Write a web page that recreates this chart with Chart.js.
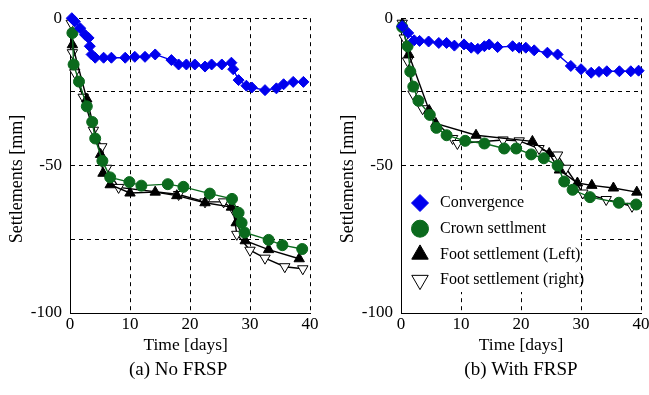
<!DOCTYPE html>
<html>
<head>
<meta charset="utf-8">
<script src="https://cdn.jsdelivr.net/npm/chart.js@4/dist/chart.umd.min.js"></script>
<style>
html,body{margin:0;padding:0;background:#fff;}
#wrap{position:relative;width:649px;height:395px;overflow:hidden;background:#fff;}
.pane{position:absolute;top:0;height:395px;}
canvas{display:block;}
</style>
</head>
<body>
<div id="wrap">
  <div class="pane" style="left:0;width:331px"><canvas id="c1" width="331" height="395"></canvas></div>
  <div class="pane" style="left:331px;width:320px"><canvas id="c2" width="320" height="395"></canvas></div>
</div>
<script>
// ---------- data ----------
const seriesNames = ['Convergence', 'Crown settlment', 'Foot settlement (Left)', 'Foot settlement (right)'];
const panelCaptions = ['(a) No FRSP', '(b) With FRSP'];
const xTicks = [0, 10, 20, 30, 40];
const yTicks = [0, -50, -100];

// (a) No FRSP
const convA_t = [0.3, 0.8, 1.7, 2.5, 3.1, 3.3, 3.6, 4.2, 5.6, 6.9, 9.2, 10.8, 12.5, 14.2, 16.9, 18.1, 19.4, 20.8, 22.5, 23.6, 25.3, 26.9, 27.2, 28.1, 29.4, 30.3, 32.5, 34.4, 35.6, 37.2, 38.9];
const convA_v = [0, -1.1, -3.4, -5.6, -6.7, -9.5, -12.3, -13.4, -13.4, -13.4, -13.4, -13.1, -13.1, -12.3, -14.2, -15.7, -15.7, -15.7, -16.4, -15.7, -15.7, -15.1, -17.3, -21, -22.9, -23.5, -24.4, -23.8, -22.4, -21.6, -21.6];
const crownA_t = [0.4, 0.6, 1.5, 2.8, 3.7, 4.2, 5.4, 6.7, 9.9, 11.9, 16.3, 18.9, 23.3, 27.0, 28.1, 28.6, 29.1, 33.1, 35.4, 38.7];
const crownA_v = [-5, -15.7, -21.5, -29.9, -35.2, -40.8, -48.4, -54, -55.6, -56.8, -56.3, -57.2, -59.5, -61.3, -66, -69.4, -72.7, -75.2, -77, -78.3];
const footLA_t = [0.4, 2.8, 5.1, 5.5, 6.7, 10, 14.2, 17.8, 22.5, 26.9, 27.7, 29.2, 33.1, 38.2];
const footLA_v = [-9, -27.4, -46.2, -52.6, -56.5, -59.3, -59, -60.2, -62.6, -64.1, -69.4, -75.5, -78.5, -81.6];
const footRA_t = [0.2, 0.4, 0.8, 2.2, 3.9, 5.3, 6.1, 8.1, 18.1, 22.5, 25.6, 27.2, 27.8, 30, 32.5, 35.8, 38.8];
const footRA_v = [-1.7, -11.7, -18.5, -26.8, -38, -43.6, -50.9, -57.4, -59.8, -62.3, -62.3, -64.9, -73.3, -78.7, -81.4, -84.3, -85];

// (b) With FRSP
const convB_t = [0.2, 1.2, 2.2, 3.1, 4.6, 6.3, 7.6, 8.9, 10.5, 11.7, 12.8, 13.9, 14.7, 16.1, 18.6, 19.7, 20.8, 22.2, 24.4, 26.1, 28.3, 30, 31.7, 33, 34.3, 36.4, 38.3, 39.6];
const convB_v = [-2.7, -5, -7.5, -7.7, -7.9, -8.4, -8.4, -9.3, -8.9, -10, -10.4, -9.5, -8.9, -9.8, -9.5, -10, -10, -10.9, -11.7, -12.3, -16.2, -17.3, -18.5, -18.2, -18, -18, -18, -17.8];
const crownB_t = [0.2, 1.1, 1.55, 2.05, 2.9, 4.8, 5.9, 7.6, 10.7, 13.9, 17.2, 19.2, 21.7, 23.8, 26.1, 27.2, 28.6, 31.5, 36.3, 39.2];
const crownB_v = [-3, -9.5, -18.1, -23.2, -28, -32.8, -37.2, -39.7, -41.6, -42.5, -44.2, -44.2, -46.2, -47.5, -50, -55.4, -58.2, -60.7, -62.6, -63.2];
const footLB_t = [0.2, 1.3, 4.7, 5.8, 12.5, 21.9, 24.7, 26.4, 29.4, 31.8, 35.4, 39.3];
const footLB_v = [-2, -12.3, -31.3, -35.7, -39.7, -41.8, -45.9, -51.5, -55.9, -56.7, -57.6, -59];
const footRB_t = [0.2, 0.55, 1.1, 2, 3.6, 8.6, 9.4, 17, 19.7, 23, 26.1, 27.5, 30.3, 34.2, 38.5];
const footRB_v = [-1.7, -6.7, -14.5, -25.7, -30.7, -40.8, -42.5, -41.3, -41.6, -44.2, -46.4, -50.9, -59.3, -61.5, -63.8];

// ---------- styling ----------
const FONT = "'Liberation Serif','Times New Roman',serif";
Chart.defaults.font.family = FONT;
Chart.defaults.color = '#000';

const BLUE = '#0000ee';
const GREEN = '#0b6a1d';
const styles = [
  {color: BLUE, fill: BLUE, edge: BLUE, pointStyle: 'rectRot', radius: 5.5, rot: 0, legendRadius: 8.5},
  {color: GREEN, fill: GREEN, edge: GREEN, pointStyle: 'circle', radius: 5.5, rot: 0, legendRadius: 8.5},
  {color: '#000', fill: '#000', edge: '#000', pointStyle: 'triangle', radius: 6, rot: 0, legendRadius: 9.5},
  {color: '#000', fill: '#fff', edge: '#000', pointStyle: 'triangle', radius: 6, rot: 180, legendRadius: 9.5}
];

function pts(t, v) { return t.map((x, i) => ({x: x, y: v[i]})); }

function makeDatasets(series) {
  return series.map((s, i) => {
    const st = styles[i];
    return {
      label: seriesNames[i],
      data: pts(s[0], s[1]),
      showLine: true,
      borderColor: st.color,
      borderWidth: 1.4,
      backgroundColor: st.fill,
      pointStyle: st.pointStyle,
      pointRadius: st.radius,
      pointRotation: st.rot,
      pointBackgroundColor: st.fill,
      pointBorderColor: st.edge,
      pointBorderWidth: 1,
      legendRadius: st.legendRadius,
      tension: 0,
      clip: false
    };
  });
}

// legend drawn inside the chart area with a white box
const boxLegend = {
  id: 'boxLegend',
  beforeDatasetsDraw(chart, args, o) {
    if (!o || !o.show) return;
    const ctx = chart.ctx, a = chart.chartArea;
    ctx.save();
    ctx.fillStyle = '#fff';
    ctx.fillRect(a.left + 1, o.top, o.width, o.height);
    ctx.font = o.fontSize + 'px ' + FONT;
    ctx.textBaseline = 'middle';
    ctx.textAlign = 'left';
    chart.data.datasets.forEach((ds, i) => {
      const y = o.top + o.first + i * o.step;
      const x = a.left + o.markerX;
      ctx.fillStyle = ds.pointBackgroundColor;
      ctx.strokeStyle = ds.pointBorderColor;
      ctx.lineWidth = 1;
      Chart.helpers.drawPoint(ctx, {pointStyle: ds.pointStyle, rotation: ds.pointRotation || 0, radius: ds.legendRadius, borderWidth: 1}, x, y);
      ctx.fillStyle = '#000';
      ctx.fillText(ds.label, a.left + o.textX, y);
    });
    ctx.restore();
  }
};

function makeChart(id, series, caption, rightPad, showLegend, yTitlePad, xTitlePad, capPad) {
  return new Chart(document.getElementById(id), {
    type: 'scatter',
    data: {datasets: makeDatasets(series)},
    options: {
      responsive: false,
      animation: false,
      events: [],
      layout: {padding: {top: 15, right: rightPad, left: 0, bottom: 0}},
      plugins: {
        legend: {display: false},
        tooltip: {enabled: false},
        title: {
          display: true,
          position: 'bottom',
          fullSize: false,
          text: caption + capPad,
          font: {size: 19, weight: 'normal', family: FONT},
          color: '#000',
          padding: {top: 0, bottom: 13.6}
        },
        boxLegend: {show: showLegend, top: 190, width: 178, height: 102, first: 13, step: 25.7, markerX: 19, textX: 39, fontSize: 16}
      },
      scales: {
        x: {
          type: 'linear',
          min: 0, max: 40,
          afterBuildTicks(s) { s.ticks = xTicks.map(v => ({value: v})); },
          afterFit(s) { s.height = 45.6; },
          ticks: {font: {size: 17}, padding: 1, color: '#000', maxRotation: 0},
          grid: {color: '#000', lineWidth: 1, drawTicks: false, tickLength: 0},
          border: {display: true, color: '#000', width: 1, dash: [4, 4]},
          title: {display: true, text: 'Time [days]' + xTitlePad, font: {size: 17.5}, color: '#000', padding: {top: 0, bottom: 3}}
        },
        y: {
          type: 'linear',
          min: -100, max: 0,
          afterBuildTicks(s) { s.ticks = [0, -25, -50, -75, -100].map(v => ({value: v})); },
          afterFit(s) { s.width = 70; },
          ticks: {font: {size: 17}, padding: 8, color: '#000', callback: v => (yTicks.includes(v) ? String(v) : '')},
          grid: {color: '#000', lineWidth: 1, drawTicks: false, tickLength: 0},
          border: {display: true, color: '#000', width: 1, dash: [4, 4]},
          title: {display: true, text: 'Settlements [mm]' + yTitlePad, font: {size: 18}, color: '#000', padding: {top: 6, bottom: 0}}
        }
      }
    },
    plugins: [boxLegend]
  });
}

makeChart('c1', [[convA_t, convA_v], [crownA_t, crownA_v], [footLA_t, footLA_v], [footRA_t, footRA_v]],
  panelCaptions[0], 21, false, '      ', '  ', '     ');
makeChart('c2', [[convB_t, convB_v], [crownB_t, crownB_v], [footLB_t, footLB_v], [footRB_t, footRB_v]],
  panelCaptions[1], 10, true, '      ', '', '');
</script>
</body>
</html>
